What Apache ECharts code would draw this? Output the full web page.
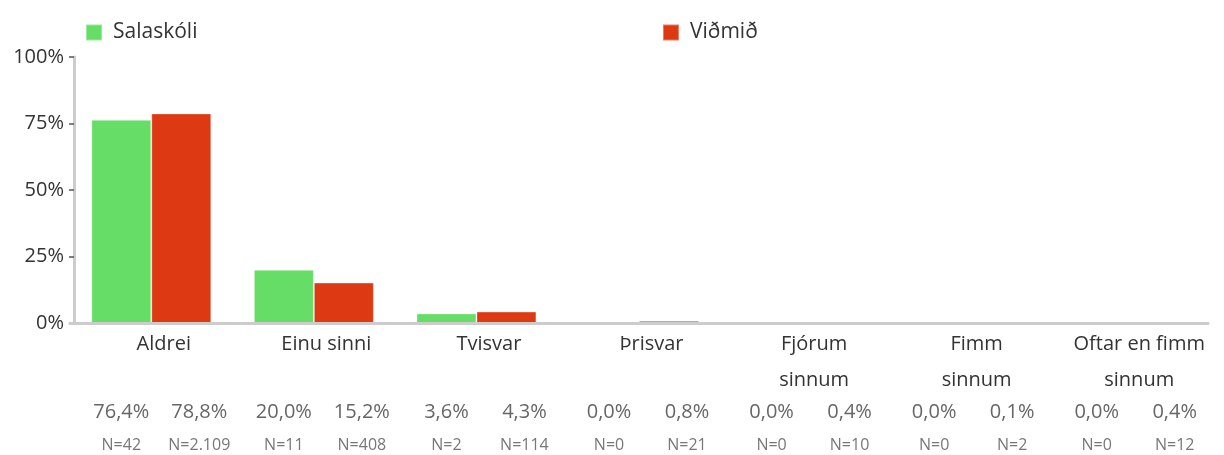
<!DOCTYPE html>
<html><head><meta charset="utf-8">
<script src="https://cdn.jsdelivr.net/npm/echarts@6/dist/echarts.min.js"></script>
<style>html,body{margin:0;padding:0;background:#fff}#c{width:1224px;height:455px}</style>
</head><body><div id="c"></div>
<script>
const categories = ['Aldrei','Einu sinni','Tvisvar','Þrisvar','Fjórum\nsinnum','Fimm\nsinnum','Oftar en fimm\nsinnum'];
const seriesNames = ['Salaskóli','Viðmið'];
const salaskoli = [76.4, 20.0, 3.6, 0.0, 0.0, 0.0, 0.0];
const vidmid = [78.8, 15.2, 4.3, 0.8, 0.4, 0.1, 0.4];
const nSalaskoli = [42, 11, 2, 0, 0, 0, 0];
const nVidmid = [2109, 408, 114, 21, 10, 2, 12];
const yTicks = ['0%','25%','50%','75%','100%'];

const FONT = '"Open Sans", sans-serif';
const fmtPct = v => v.toFixed(1).replace('.', ',') + '%';
const fmtN = n => 'N=' + String(n).replace(/\B(?=(\d{3})+(?!\d))/g, '.');

function lbl(nArr, dx) {
  return {
    show: true, position: 'bottom', distance: 0, offset: [dx, 73],
    formatter: p => '{p|' + fmtPct(p.value) + '}\n{n|' + fmtN(nArr[p.dataIndex]) + '}',
    rich: {
      p: {fontFamily: FONT, fontSize: 20, lineHeight: 32, color: '#666'},
      n: {fontFamily: FONT, fontSize: 16, lineHeight: 34, color: '#777'}
    }
  };
}

const chart = echarts.init(document.getElementById('c'), null, {renderer: 'canvas'});
chart.setOption({
  animation: false,
  textStyle: {fontFamily: FONT},
  legend: [
    {data: [seriesNames[0]], left: 80, top: 17, itemWidth: 16, itemHeight: 16, icon: 'rect',
     textStyle: {fontFamily: FONT, fontSize: 21, color: '#333', padding: [0,0,0,6]}},
    {data: [seriesNames[1]], left: 657, top: 17, itemWidth: 16, itemHeight: 16, icon: 'rect',
     textStyle: {fontFamily: FONT, fontSize: 21, color: '#333', padding: [0,0,0,6]}}
  ],
  grid: {left: 70, right: 16, top: 57, bottom: 132, containLabel: false},
  xAxis: {
    type: 'category', data: categories, z: 5,
    axisLine: {lineStyle: {color: '#ccc', width: 3}},
    axisTick: {show: false},
    axisLabel: {fontFamily: FONT, fontSize: 20, color: '#333', lineHeight: 36, margin: 3,
                padding: [0, 0, 0, 25], interval: 0}
  },
  yAxis: {
    type: 'value', min: 0, max: 100, interval: 25, offset: -4,
    axisLine: {show: true, lineStyle: {color: '#ccc', width: 3}},
    axisTick: {show: true, length: 5, lineStyle: {color: '#555', width: 1.5}},
    splitLine: {show: false},
    axisLabel: {fontFamily: FONT, fontSize: 20, color: '#333', margin: 10,
                formatter: (v) => yTicks[Math.round(v / 25)]}
  },
  series: [
    {name: seriesNames[0], type: 'bar', data: salaskoli, barWidth: 60, barGap: '0%',
     itemStyle: {color: '#66DD66', borderColor: 'rgba(255,255,255,0.35)', borderWidth: 1},
     label: lbl(nSalaskoli, 0)},
    {name: seriesNames[1], type: 'bar', data: vidmid, barWidth: 60, barGap: '0%',
     itemStyle: {color: '#DD3913', borderColor: 'rgba(255,255,255,0.35)', borderWidth: 1},
     label: lbl(nVidmid, 18)}
  ]
});
</script></body></html>
